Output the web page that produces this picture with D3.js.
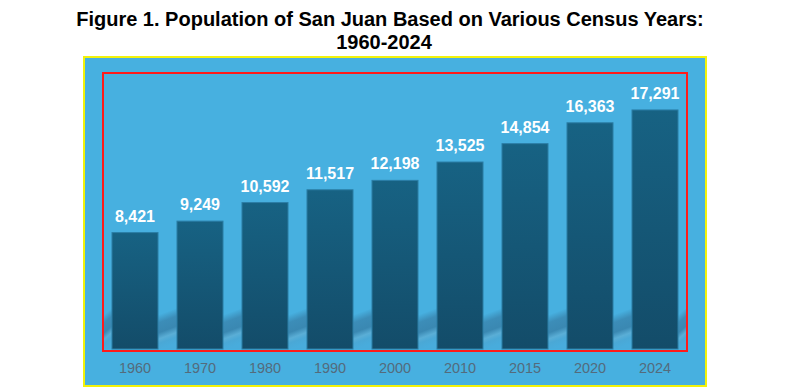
<!DOCTYPE html>
<html>
<head>
<meta charset="utf-8">
<script src="https://cdn.jsdelivr.net/npm/d3@7"></script>
<style>
  html, body { margin: 0; padding: 0; background: #ffffff; }
  svg { display: block; }
</style>
</head>
<body>
<div id="chart"></div>
<script>
const years = ["1960", "1970", "1980", "1990", "2000", "2010", "2015", "2020", "2024"];
const population = [8421, 9249, 10592, 11517, 12198, 13525, 14854, 16363, 17291];
const titleLines = ["Figure 1. Population of San Juan Based on Various Census Years:", "1960-2024"];
const yDomain = [0, 20000];

const W = 810, H = 387;
const svg = d3.select("#chart").append("svg").attr("width", W).attr("height", H);
const defs = svg.append("defs");

const barGrad = defs.append("linearGradient").attr("id", "barGrad")
  .attr("x1", 0).attr("y1", 0).attr("x2", 0).attr("y2", 1);
barGrad.append("stop").attr("offset", "0%").attr("stop-color", "#176283");
barGrad.append("stop").attr("offset", "100%").attr("stop-color", "#134c69");

const shGrad = defs.append("linearGradient").attr("id", "shGrad")
  .attr("x1", 0).attr("y1", 0).attr("x2", 0.16).attr("y2", 1);
[["0%", "#47b0e0"], ["22%", "#47b0e0"], ["40%", "#3c8db8"], ["62%", "#3a88b2"],
 ["76%", "#5aaed6"], ["86%", "#4aa8d6"], ["100%", "#48acdc"]].forEach(s =>
  shGrad.append("stop").attr("offset", s[0]).attr("stop-color", s[1]));

// Title
const title = svg.append("g").style("font-family", "'Liberation Sans', Arial, sans-serif")
  .attr("font-weight", "bold").attr("font-size", 20).attr("fill", "#000");
const t1 = title.append("text").attr("x", 390).attr("y", 26).attr("text-anchor", "middle").text(titleLines[0]);
const t2 = title.append("text").attr("x", 384).attr("y", 49).attr("text-anchor", "middle").text(titleLines[1]);
if (Math.abs(t1.node().getComputedTextLength() - 624) > 4) {
  t1.attr("textLength", 624).attr("lengthAdjust", "spacingAndGlyphs");
}
if (Math.abs(t2.node().getComputedTextLength() - 93) > 3) {
  t2.attr("textLength", 93).attr("lengthAdjust", "spacingAndGlyphs");
}

// Chart panel
svg.append("rect").attr("x", 84).attr("y", 57).attr("width", 622).attr("height", 329)
  .attr("fill", "#47b0e0").attr("stroke", "#f2f20a").attr("stroke-width", 2);

const x = d3.scaleBand().domain(years).range([102.5, 687.5]).paddingInner(0.292).paddingOuter(0.146);
const y = d3.scaleLinear().domain(yDomain).range([349, 72.5]);

// shadow swooshes in the gaps between bars
const step = x.step(), bw = x.bandwidth();
const gapStarts = years.map(yr => x(yr) - (step - bw)).concat([x(years[years.length - 1]) + bw]);
svg.append("g").selectAll("rect").data(gapStarts).join("rect")
  .attr("x", d => Math.max(d, 104))
  .attr("y", 305)
  .attr("width", d => Math.min(d + step - bw, 686) - Math.max(d, 104))
  .attr("height", 44)
  .attr("fill", "url(#shGrad)");

// bars
svg.append("g").selectAll("rect").data(population).join("rect")
  .attr("x", (d, i) => x(years[i]))
  .attr("y", d => y(d))
  .attr("width", bw)
  .attr("height", d => y(0) - y(d))
  .attr("fill", "url(#barGrad)")
  .attr("stroke", "#2b7ea6").attr("stroke-width", 1);

// value labels
svg.append("g").style("font-family", "'Liberation Sans', Arial, sans-serif")
  .attr("font-weight", "bold").attr("font-size", 16).attr("fill", "#ffffff")
  .selectAll("text").data(population).join("text")
  .attr("x", (d, i) => x(years[i]) + bw / 2)
  .attr("y", d => y(d) - 11)
  .attr("text-anchor", "middle")
  .text(d => d3.format(",")(d));

// x axis
const xAxis = svg.append("g").attr("transform", "translate(0,351)")
  .call(d3.axisBottom(x).tickSize(0).tickPadding(0));
xAxis.select(".domain").remove();
xAxis.selectAll("text")
  .style("font-family", "'Liberation Sans', Arial, sans-serif")
  .style("font-size", "14.5px").attr("fill", "#546b7c")
  .attr("dy", 0).attr("y", 22);

// red frame (plot area)
svg.append("rect").attr("x", 103).attr("y", 73).attr("width", 584).attr("height", 278)
  .attr("fill", "none").attr("stroke", "#ff1a1a").attr("stroke-width", 2);
</script>
</body>
</html>
